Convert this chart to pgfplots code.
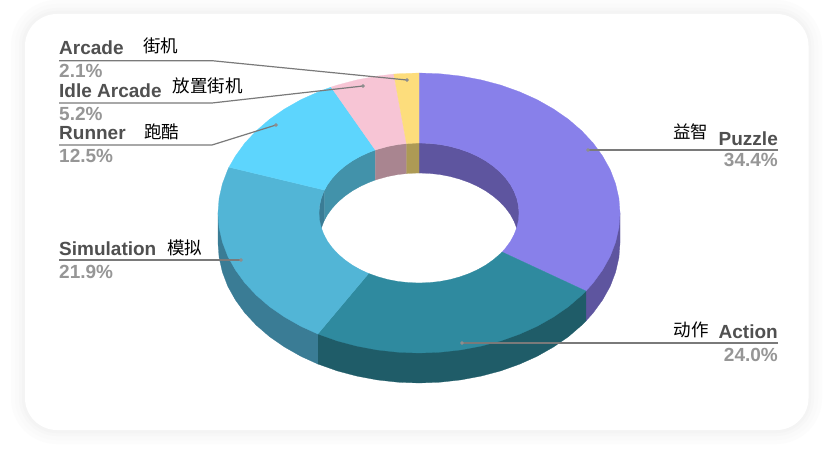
\documentclass[border=0pt]{standalone}
\usepackage{fontspec}
\usepackage{pgfplots}
\pgfplotsset{compat=1.18}
\setmainfont{Liberation Sans}
\newfontfamily\cjk{Noto Sans CJK SC}

% top faces
\definecolor{puzzle}{HTML}{8880EA}
\definecolor{action}{HTML}{2F8A9F}
\definecolor{simul}{HTML}{52B5D6}
\definecolor{runner}{HTML}{5DD5FD}
\definecolor{idle}{HTML}{F7C5D5}
\definecolor{arcade}{HTML}{FDDD7C}
% walls
\definecolor{puzzleW}{HTML}{5E559F}
\definecolor{actionW}{HTML}{1F5C68}
\definecolor{simulW}{HTML}{3A7C95}
\definecolor{runnerW}{HTML}{4292AA}
\definecolor{idleW}{HTML}{A98590}
\definecolor{arcadeW}{HTML}{AD9A55}
% text
\definecolor{nameC}{HTML}{505050}
\definecolor{pctC}{HTML}{969696}
\definecolor{leadC}{HTML}{7A7A7A}

\newcommand\latin{\fontsize{19}{19}\selectfont\bfseries}
\newcommand\zh{\fontsize{17.5}{17.5}\selectfont\cjk}

\tikzset{
  nm/.style={inner sep=0pt,font=\latin,text=nameC},
  pc/.style={inner sep=0pt,font=\latin,text=pctC},
  cn/.style={inner sep=0pt,font=\zh,text=black,anchor=base west},
}
\pgfplotsset{
  slice/.style={fill=#1,draw=#1,line width=0.25pt},
  lead/.style={leadC,line width=1.2pt},
}

\begin{document}
\begin{tikzpicture}
\begin{axis}[
  scale only axis,
  width=826pt,
  height=449pt,
  xmin=0, xmax=826,
  ymin=0, ymax=449,
  y dir=reverse,
  hide axis,
  clip=false,
]
% card and its soft shadow
\fill[white] (axis cs:0,0) rectangle (axis cs:826,449);
\fill[black!1,rounded corners=46pt] (axis cs:11,0) rectangle (axis cs:822,444);
\fill[black!2,rounded corners=42pt] (axis cs:15,4) rectangle (axis cs:818,440);
\fill[black!3,rounded corners=38pt] (axis cs:19,8) rectangle (axis cs:814,436);
\fill[black!4.5,rounded corners=35pt] (axis cs:22,11) rectangle (axis cs:811,433);
\fill[white,rounded corners=32pt] (axis cs:25,14) rectangle (axis cs:808.5,430);

% outer side walls
\addplot[slice=puzzleW] coordinates {
  (620,213) (620,243) (618.9,257.6) (615.6,272.1) (610.2,286.3) (602.6,299.9) (593.1,313) (585.9,321) (585.9,291)
} --cycle;
\addplot[slice=actionW] coordinates {
  (585.9,291) (585.9,321) (581.6,325.3) (568.4,336.7) (553.5,347) (537.1,356.3) (519.5,364.2) (500.7,370.9) (481.1,376.1)
  (460.8,379.9) (440,382.2) (419,383) (398,382.2) (377.2,379.9) (356.9,376.1) (337.3,370.9) (318.5,364.2) (317.8,364) (317.8,334)
} --cycle;
\addplot[slice=simulW] coordinates {
  (317.8,334) (317.8,364) (300.9,356.3) (284.5,347) (269.6,336.7) (256.4,325.3) (244.9,313) (235.4,299.9) (227.8,286.3)
  (222.4,272.1) (219.1,257.6) (218,243) (218,213)
} --cycle;

% inner walls of the hole
\addplot[slice=puzzleW] coordinates {
  (419,143) (429.5,143.4) (439.8,144.5) (449.9,146.4) (459.7,149.1) (469,152.4) (477.8,156.4) (485.9,161) (493.3,166.2)
  (499.9,171.9) (505.6,178) (510.4,184.5) (514.1,191.4) (516.8,198.4) (518.5,205.7) (519,213)
  (519,243) (518.5,235.7) (516.8,228.4) (514.1,221.4) (510.4,214.5) (505.6,208) (499.9,201.9) (493.3,196.2)
  (485.9,191) (477.8,186.4) (469,182.4) (459.7,179.1) (449.9,176.4) (439.8,174.5) (429.5,173.4) (419,173)
} --cycle;
\addplot[slice=simulW] coordinates {
  (319,213) (319.5,205.7) (321.2,198.4) (323.9,191.4) (324.5,190.1)
  (324.5,220.1) (323.9,221.4) (321.2,228.4) (319.5,235.7) (319,243)
} --cycle;
\addplot[slice=runnerW] coordinates {
  (324.5,190.1) (327.6,184.5) (332.4,178) (338.1,171.9) (344.7,166.2) (352.1,161) (360.2,156.4) (369,152.4) (375.3,150)
  (375.3,180) (369,182.4) (360.2,186.4) (352.1,191) (344.7,196.2) (338.1,201.9) (332.4,208) (327.6,214.5) (324.5,220.1)
} --cycle;
\addplot[slice=idleW] coordinates {
  (375.3,150) (378.3,149.1) (388.1,146.4) (398.2,144.5) (406.5,143.6)
  (406.5,173.6) (398.2,174.5) (388.1,176.4) (378.3,179.1) (375.3,180)
} --cycle;
\addplot[slice=arcadeW] coordinates {
  (406.5,143.6) (408.5,143.4) (419,143) (419,173) (408.5,173.4) (406.5,173.6)
} --cycle;

% top faces: 34.4, 24.0, 21.9, 12.5, 5.2, 2.1 per cent
\addplot[slice=puzzle] coordinates {
  (419,73) (440,73.8) (460.8,76.1) (481.1,79.9) (500.7,85.1) (519.5,91.8) (537.1,99.7) (553.5,109) (568.4,119.3)
  (581.6,130.7) (593.1,143) (602.6,156.1) (610.2,169.7) (615.6,183.9) (618.9,198.4) (620,213)
  (618.9,227.6) (615.6,242.1) (610.2,256.3) (602.6,269.9) (593.1,283) (585.9,291)
  (502.1,252) (505.6,248) (510.4,241.5) (514.1,234.6) (516.8,227.6) (518.5,220.3) (519,213)
  (518.5,205.7) (516.8,198.4) (514.1,191.4) (510.4,184.5) (505.6,178) (499.9,171.9) (493.3,166.2) (485.9,161)
  (477.8,156.4) (469,152.4) (459.7,149.1) (449.9,146.4) (439.8,144.5) (429.5,143.4) (419,143)
} --cycle;
\addplot[slice=action] coordinates {
  (585.9,291) (581.6,295.3) (568.4,306.7) (553.5,317) (537.1,326.3) (519.5,334.2) (500.7,340.9) (481.1,346.1)
  (460.8,349.9) (440,352.2) (419,353) (398,352.2) (377.2,349.9) (356.9,346.1) (337.3,340.9) (318.5,334.2) (317.8,334)
  (368.6,273.5) (369,273.6) (378.3,276.9) (388.1,279.6) (398.2,281.5) (408.5,282.6) (419,283)
  (429.5,282.6) (439.8,281.5) (449.9,279.6) (459.7,276.9) (469,273.6) (477.8,269.6) (485.9,265) (493.3,259.8) (499.9,254.1) (502.1,252)
} --cycle;
\addplot[slice=simul] coordinates {
  (317.8,334) (300.9,326.3) (284.5,317) (269.6,306.7) (256.4,295.3) (244.9,283) (235.4,269.9) (227.8,256.3)
  (222.4,242.1) (219.1,227.6) (218,213) (219.1,198.4) (222.4,183.9) (227.8,169.7) (229,167.2)
  (324.5,190.1) (323.9,191.4) (321.2,198.4) (319.5,205.7) (319,213) (319.5,220.3) (321.2,227.6) (323.9,234.6)
  (327.6,241.5) (332.4,248) (338.1,254.1) (344.7,259.8) (352.1,265) (360.2,269.6) (368.6,273.5)
} --cycle;
\addplot[slice=runner] coordinates {
  (229,167.2) (235.4,156.1) (244.9,143) (256.4,130.7) (269.6,119.3) (284.5,109) (300.9,99.7) (318.5,91.8) (331.1,87.1)
  (375.3,150) (369,152.4) (360.2,156.4) (352.1,161) (344.7,166.2) (338.1,171.9) (332.4,178) (327.6,184.5) (324.5,190.1)
} --cycle;
\addplot[slice=idle] coordinates {
  (331.1,87.1) (337.3,85.1) (356.9,79.9) (377.2,76.1) (393.8,74.1)
  (406.5,143.6) (398.2,144.5) (388.1,146.4) (378.3,149.1) (375.3,150)
} --cycle;
\addplot[slice=arcade] coordinates {
  (393.8,74.1) (398,73.8) (419,73) (419,143) (408.5,143.4) (406.5,143.6)
} --cycle;

% leader lines
\addplot[lead] coordinates {(59,60.7) (212,60.7) (407,80)};
\addplot[lead] coordinates {(59,103) (212,103) (363,86)};
\addplot[lead] coordinates {(59,145) (212,145) (276,125)};
\addplot[lead] coordinates {(59,260) (241,260)};
\addplot[lead] coordinates {(778,150) (588,150)};
\addplot[lead] coordinates {(778,343) (462,343)};
\addplot[only marks,mark=*,mark size=1.7pt,color=leadC!85!white] coordinates {
  (407,80) (363,86) (276,125) (241,260) (588,150) (462,343)
};

% labels
\node[nm,anchor=base west] at (axis cs:59,55) {Arcade};
\node[pc,anchor=base west] at (axis cs:59,78) {2.1\%};
\node[cn] at (axis cs:143,52.5) {街机};
\node[nm,anchor=base west] at (axis cs:59,98) {Idle Arcade};
\node[pc,anchor=base west] at (axis cs:59,120.5) {5.2\%};
\node[cn] at (axis cs:172.5,92.5) {放置街机};
\node[nm,anchor=base west] at (axis cs:59,140) {Runner};
\node[pc,anchor=base west] at (axis cs:59,163) {12.5\%};
\node[cn] at (axis cs:144,138.5) {跑酷};
\node[nm,anchor=base west] at (axis cs:59,255) {Simulation};
\node[pc,anchor=base west] at (axis cs:59,278) {21.9\%};
\node[cn] at (axis cs:167,254) {模拟};
\node[nm,anchor=base east] at (axis cs:778,146) {Puzzle};
\node[pc,anchor=base east] at (axis cs:778,167) {34.4\%};
\node[cn] at (axis cs:673,138.5) {益智};
\node[nm,anchor=base east] at (axis cs:778,338) {Action};
\node[pc,anchor=base east] at (axis cs:778,361) {24.0\%};
\node[cn] at (axis cs:673.5,336) {动作};
\end{axis}
\end{tikzpicture}
\end{document}
